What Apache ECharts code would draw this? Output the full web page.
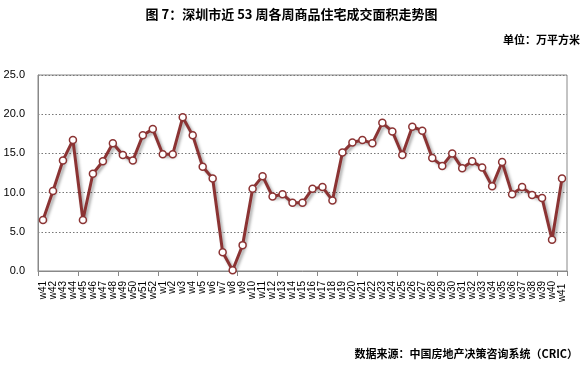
<!DOCTYPE html>
<html><head><meta charset="utf-8">
<script src="https://cdn.jsdelivr.net/npm/echarts@6/dist/echarts.min.js"></script>
<style>html,body{margin:0;padding:0;background:#fff}#c{width:583px;height:367px}</style>
</head><body><div id="c"></div>
<script>
var categories = ['w41','w42','w43','w44','w45','w46','w47','w48','w49','w50','w51','w52',
 'w1','w2','w3','w4','w5','w6','w7','w8','w9','w10','w11','w12','w13','w14','w15','w16','w17','w18','w19','w20',
 'w21','w22','w23','w24','w25','w26','w27','w28','w29','w30','w31','w32','w33','w34','w35','w36','w37','w38','w39','w40','w41 '];
var values = [6.5,10.2,14.1,16.7,6.5,12.4,14.0,16.3,14.8,14.1,17.3,18.1,
 14.9,14.9,19.6,17.3,13.3,11.8,2.4,0.1,3.3,10.5,12.1,9.5,9.8,8.7,8.7,10.5,10.7,9.0,15.1,16.4,
 16.7,16.3,18.9,17.8,14.8,18.4,17.9,14.4,13.4,15.0,13.1,14.0,13.2,10.8,13.9,9.8,10.7,9.7,9.3,4.0,11.8];
var yTicks = [0,5,10,15,20,25];

var chart = echarts.init(document.getElementById('c'));
chart.setOption({
  animation:false,
  backgroundColor:'#fff',
  title:{
    text:'图 7：深圳市近 53 周各周商品住宅成交面积走势图',
    left:'center', top:3,
    textStyle:{fontSize:13, fontWeight:'bold', color:'#000', fontFamily:'Noto Sans CJK SC'}
  },
  graphic:[
    {type:'text', right:3, top:34, style:{text:'单位：万平方米', fill:'#000', font:'bold 11px "Noto Sans CJK SC"'}},
    {type:'text', right:5, top:348, style:{text:'数据来源：中国房地产决策咨询系统（CRIC）', fill:'#000', font:'bold 11px "Noto Sans CJK SC"'}}
  ],
  grid:{left:38, right:16, top:75, bottom:96, show:true, borderColor:'#888', borderWidth:1},
  xAxis:{
    type:'category', data:categories, boundaryGap:true,
    axisLine:{lineStyle:{color:'#888'}},
    axisTick:{show:true, interval:3, length:5, lineStyle:{color:'#888'}},
    axisLabel:{interval:0, rotate:90, fontSize:10, color:'#000', fontFamily:'Liberation Sans', margin:10}
  },
  yAxis:{
    type:'value', min:yTicks[0], max:yTicks[yTicks.length-1], interval:5,
    axisLine:{show:true, lineStyle:{color:'#888'}},
    axisTick:{show:false},
    axisLabel:{formatter:function(v){return v.toFixed(1);}, fontSize:11, color:'#000', fontFamily:'Liberation Sans', margin:13},
    splitLine:{show:true, lineStyle:{color:'#777', type:[1.5,2], width:1}}
  },
  series:[{
    type:'line', data:values,
    symbol:'circle', symbolSize:7,
    lineStyle:{color:'#8b3333', width:3, shadowColor:'rgba(0,0,0,0.35)', shadowBlur:3, shadowOffsetX:2, shadowOffsetY:2},
    itemStyle:{color:'#fff', borderColor:'#8b3333', borderWidth:1.5},
    z:3
  }]
});
</script></body></html>
